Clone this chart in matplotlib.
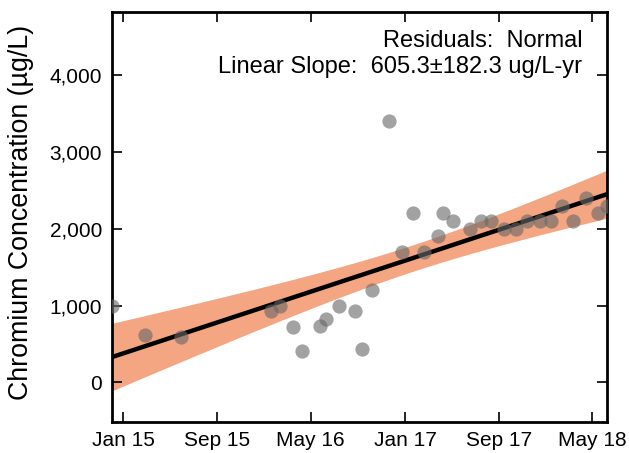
import matplotlib
matplotlib.use("Agg")
import matplotlib.pyplot as plt
import matplotlib.dates as mdates
import matplotlib.ticker as mticker
import numpy as np
import pandas as pd

plt.rcParams['font.family'] = ['Liberation Sans', 'DejaVu Sans']

# sample dates and chromium results (ug/L)
dates = pd.to_datetime([
    "2014-12-03", "2015-02-26", "2015-05-30", "2016-01-19", "2016-02-12",
    "2016-03-16", "2016-04-09", "2016-05-25", "2016-06-10", "2016-07-14",
    "2016-08-24", "2016-09-11", "2016-10-07", "2016-11-19", "2016-12-24",
    "2017-01-21", "2017-02-19", "2017-03-26", "2017-04-09", "2017-05-06",
    "2017-06-17", "2017-07-16", "2017-08-12", "2017-09-15", "2017-10-15",
    "2017-11-12", "2017-12-17", "2018-01-15", "2018-02-12", "2018-03-12",
    "2018-04-15", "2018-05-15", "2018-06-08",
])
chromium = [1000, 610, 590, 930, 1000, 720, 410, 730, 830, 1000,
            930, 430, 1200, 3400, 1700, 2200, 1700, 1900, 2200, 2100,
            2000, 2100, 2100, 2000, 2000, 2100, 2100, 2100, 2300, 2100,
            2400, 2200, 2300]

tick_dates = pd.to_datetime(["2015-01-01", "2015-09-01", "2016-05-01",
                             "2017-01-01", "2017-09-01", "2018-05-01"])

# linear fit (years) + 95% confidence band on the mean
y = np.array(chromium, dtype=float)
t_yr = np.array((dates - dates[0]).days) / 365.25
n = len(y)
slope, icpt = np.polyfit(t_yr, y, 1)
resid = y - (slope * t_yr + icpt)
s = np.sqrt(np.sum(resid ** 2) / (n - 2))
sxx = np.sum((t_yr - t_yr.mean()) ** 2)
t_crit = 2.0395  # df = 31

grid_days = np.linspace(0, (dates[-1] - dates[0]).days, 200)
grid_yr = grid_days / 365.25
grid_dates = dates[0] + pd.to_timedelta(grid_days, unit="D")
fit = slope * grid_yr + icpt
half = t_crit * s * np.sqrt(1.0 / n + (grid_yr - t_yr.mean()) ** 2 / sxx)

fig = plt.figure(figsize=(6.29, 4.53), dpi=100)
ax = fig.add_axes([0.178, 0.0695, 0.787, 0.904])

ax.fill_between(grid_dates, fit - half, fit + half, color="#f4a582", lw=0)
ax.plot(grid_dates, fit, color="black", lw=3.2)
ax.scatter(dates, chromium, s=105, color="#696969", alpha=0.62, lw=0, zorder=3)

ax.set_xlim(dates[0], dates[-1])
ax.set_ylim(-510, 4820)
ax.set_yticks([0, 1000, 2000, 3000, 4000])
ax.yaxis.set_major_formatter(mticker.StrMethodFormatter("{x:,.0f}"))
ax.set_xticks(tick_dates)
ax.xaxis.set_major_formatter(mdates.DateFormatter("%b %y"))

ax.tick_params(direction="in", top=True, right=True, length=7, width=1.2,
               labelsize=15, pad=7)
for sp in ax.spines.values():
    sp.set_linewidth(2)

ax.set_ylabel("Chromium Concentration (µg/L)", fontsize=19.3)
ax.yaxis.set_label_coords(-0.158, 0.51)

ax.text(0.95, 0.915, "Residuals:  Normal", transform=ax.transAxes,
        ha="right", va="baseline", fontsize=17)
ax.text(0.95, 0.851, "Linear Slope:  605.3±182.3 ug/L-yr",
        transform=ax.transAxes, ha="right", va="baseline", fontsize=17)

fig.savefig("out.png", dpi=100)
